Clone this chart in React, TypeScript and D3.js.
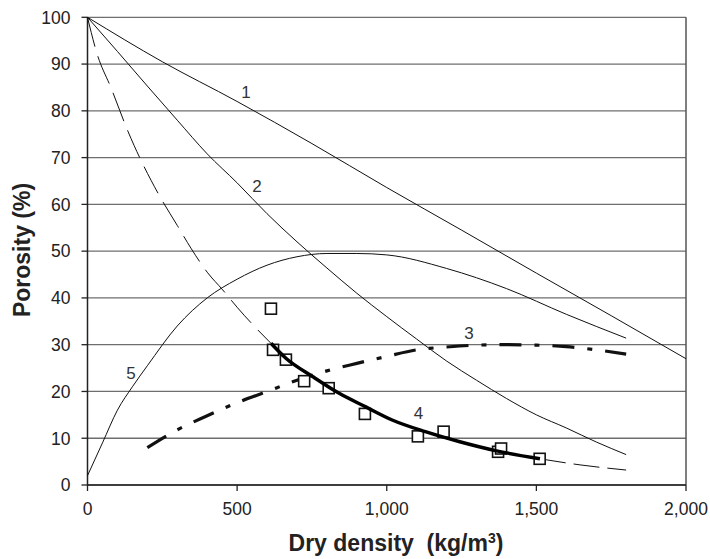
import React from 'react';
import * as d3 from 'd3';

// density (kg/m3) and porosity (%)
const curve1X = [0, 250, 500, 750, 1000, 1250, 1500, 1750, 2000];
const curve1Y = [100, 90.5, 82, 73, 63.6, 54.5, 45.3, 36.2, 27];

const curve2X = [0, 100, 200, 300, 400, 500, 600, 700, 800, 900, 1000, 1100, 1200, 1300, 1400, 1500, 1600, 1700, 1800];
const curve2Y = [100, 92.7, 85.3, 78, 70.8, 64.6, 58, 52, 46.4, 41, 36, 31.2, 26.5, 22.4, 18.5, 15, 12.2, 9.2, 6.5];

const curve3X = [200, 300, 400, 500, 600, 700, 800, 900, 1000, 1100, 1200, 1300, 1400, 1500, 1600, 1700, 1800];
const curve3Y = [8, 11.8, 14.8, 17.6, 20, 22.4, 24.4, 26, 27.5, 28.9, 29.5, 29.9, 30, 29.9, 29.6, 28.9, 28];

const curve4X = [613, 663, 752, 841, 930, 1018, 1129, 1241, 1367, 1512];
const curve4Y = [30.3, 27.1, 23.2, 19.6, 16.7, 13.9, 11.4, 9.3, 7.3, 5.6];

// thin long-dash extension of curve 4
const fitHeadX = [0, 30, 80, 136, 239, 300, 347, 400, 452, 500, 558, 613];
const fitHeadY = [100, 92.6, 84.7, 75.5, 62, 55.5, 50.5, 45.5, 41.7, 38, 33.9, 30.3];
const fitTailX = [1512, 1646, 1800];
const fitTailY = [5.6, 4.3, 3.2];

const curve5X = [0, 50, 100, 150, 200, 300, 400, 500, 600, 700, 800, 900, 1000, 1200, 1400, 1600, 1800];
const curve5Y = [2, 9, 16, 21, 25.5, 34, 40, 44, 47, 48.8, 49.5, 49.5, 49.2, 46.3, 42, 36.5, 31.4];

const measuredX = [613, 620, 663, 724, 806, 927, 1104, 1190, 1372, 1382, 1511];
const measuredY = [37.7, 28.9, 26.8, 22.2, 20.7, 15.2, 10.4, 11.4, 7.1, 7.8, 5.6];

const curveLabels = ['1', '2', '3', '4', '5'];
const labelX = [530, 566, 1275, 1106, 145];
const labelY = [84, 64, 32.6, 15.5, 24];

const xTicks = [0, 500, 1000, 1500, 2000];
const yTicks = [0, 10, 20, 30, 40, 50, 60, 70, 80, 90, 100];

const font = '"Liberation Sans", Arial, sans-serif';

const App = () => {
  const x = d3.scaleLinear().domain([0, 2000]).range([87.5, 686]);
  const y = d3.scaleLinear().domain([0, 100]).range([485, 17.3]);

  const line = (xs: number[], ys: number[]) =>
    d3.line<number>()
      .x((d) => x(xs[d]))
      .y((d) => y(ys[d]))
      .curve(d3.curveMonotoneX)(d3.range(xs.length)) || '';

  const fmt = d3.format(',');

  return (
    <div style={{ position: 'absolute', left: 0, top: 0 }}>
      <svg width={710} height={559} style={{ display: 'block', background: '#fff' }}>
        {/* grid */}
        {yTicks.map((t) => (
          <line key={'g' + t} x1={x(0)} x2={x(2000)} y1={y(t)} y2={y(t)} stroke="#6e6e6e" strokeWidth={1.3} />
        ))}
        <line x1={x(2000)} x2={x(2000)} y1={y(100)} y2={y(0)} stroke="#555" strokeWidth={1.5} />

        {/* axes */}
        <line x1={x(0)} x2={x(0)} y1={y(100)} y2={y(0)} stroke="#222" strokeWidth={1.5} />
        <line x1={x(0)} x2={x(2000)} y1={y(0)} y2={y(0)} stroke="#222" strokeWidth={1.5} />
        {yTicks.map((t) => (
          <g key={'y' + t}>
            <line x1={x(0) - 6} x2={x(0)} y1={y(t)} y2={y(t)} stroke="#222" strokeWidth={1.3} />
            <text x={x(0) - 17} y={y(t)} dy="0.36em" textAnchor="end" fontFamily={font} fontSize={17.5} fill="#222">{t}</text>
          </g>
        ))}
        {xTicks.map((t) => (
          <g key={'x' + t}>
            <line x1={x(t)} x2={x(t)} y1={y(0)} y2={y(0) + 6} stroke="#222" strokeWidth={1.3} />
            <text x={x(t)} y={y(0) + 30} textAnchor="middle" fontFamily={font} fontSize={17.5} fill="#222">{fmt(t)}</text>
          </g>
        ))}

        {/* curves */}
        <path d={line(curve1X, curve1Y)} fill="none" stroke="#111" strokeWidth={1} />
        <path d={line(curve2X, curve2Y)} fill="none" stroke="#111" strokeWidth={1} />
        <path d={line(curve5X, curve5Y)} fill="none" stroke="#111" strokeWidth={1} />
        <path d={line(fitHeadX, fitHeadY)} fill="none" stroke="#111" strokeWidth={1} strokeDasharray="30,10" />
        <path d={line(fitTailX, fitTailY)} fill="none" stroke="#111" strokeWidth={1} strokeDasharray="26,8" />
        <path d={line(curve3X, curve3Y)} fill="none" stroke="#111" strokeWidth={3.2} strokeDasharray="22,13,5,13" />

        {measuredX.map((d, i) => (
          <rect key={'m' + i} x={x(d) - 5.5} y={y(measuredY[i]) - 5.5} width={11} height={11} fill="#fff" stroke="#111" strokeWidth={1.6} />
        ))}
        <path d={line(curve4X, curve4Y)} fill="none" stroke="#000" strokeWidth={3.5} />

        {curveLabels.map((l, i) => (
          <text key={'l' + l} x={x(labelX[i])} y={y(labelY[i])} dy="0.36em" textAnchor="middle" fontFamily={font} fontSize={17} fill="#333">{l}</text>
        ))}

        {/* axis titles */}
        <text x={396} y={551} textAnchor="middle" fontFamily={font} fontSize={23} fontWeight="bold" fill="#222">
          Dry density{'\u00a0\u00a0'}(kg/m<tspan fontSize={14} dy={-8}>3</tspan><tspan dy={8}>)</tspan>
        </text>
        <text transform="translate(30,250) rotate(-90)" textAnchor="middle" fontFamily={font} fontSize={23} fontWeight="bold" fill="#222">
          Porosity (%)
        </text>
      </svg>
    </div>
  );
};

export default App;
